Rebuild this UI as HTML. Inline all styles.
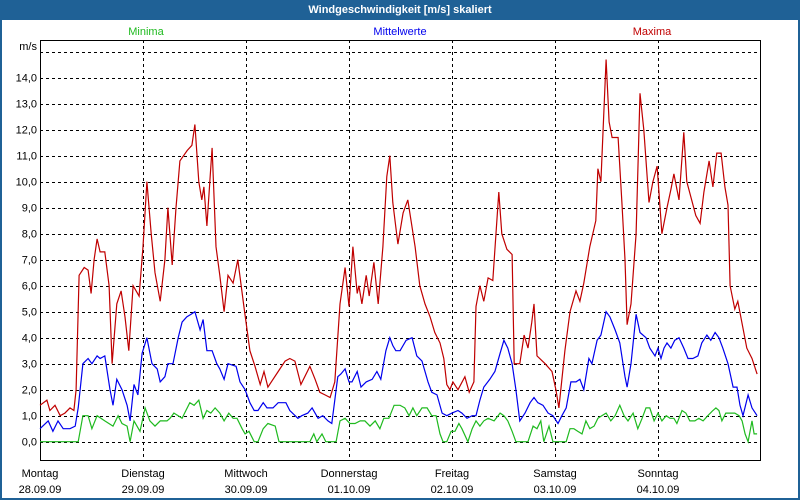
<!DOCTYPE html>
<html><head><meta charset="utf-8"><style>
html,body{margin:0;padding:0;width:800px;height:500px;overflow:hidden;background:#fff}
#frame{position:absolute;left:0;top:0;width:796px;height:498px;border:2px solid #1f6196;border-top:none;}
#title{position:absolute;left:0;top:0;width:800px;height:20px;background:#1f6196;color:#fff;font:bold 11px "Liberation Sans",sans-serif;text-align:center;line-height:20px}
svg{position:absolute;left:0;top:0}
text{font-family:"Liberation Sans",sans-serif;font-size:11px}
</style></head><body>
<div id="frame"></div>
<div id="title">Windgeschwindigkeit [m/s] skaliert</div>
<svg id="chart" width="800" height="500"></svg>
<script>
const dayLabels=["Montag","Dienstag","Mittwoch","Donnerstag","Freitag","Samstag","Sonntag"];
const dateLabels=["28.09.09","29.09.09","30.09.09","01.10.09","02.10.09","03.10.09","04.10.09"];
const yTicks=[0,1,2,3,4,5,6,7,8,9,10,11,12,13,14];
const yTickLabels=["0,0","1,0","2,0","3,0","4,0","5,0","6,0","7,0","8,0","9,0","10,0","11,0","12,0","13,0","14,0"];
const maxHours=[0,1.6,2.3,3.5,4.7,5.8,7.0,7.9,8.4,9.1,10.3,11.2,11.9,12.6,13.3,14.0,15.1,16.1,16.8,17.9,18.9,19.8,20.7,21.7,23.1,24.0,24.9,25.9,26.8,28.0,29.1,29.8,30.8,31.7,32.6,34.3,35.4,36.1,37.0,37.7,38.2,38.9,39.6,40.1,41.0,41.9,42.9,43.8,45.0,46.1,47.5,48.9,50.1,51.3,52.2,53.1,55.5,57.1,58.2,59.4,60.8,62.9,64.1,65.2,66.4,67.6,68.7,69.9,71.1,72.0,72.9,73.9,74.3,75.0,76.0,76.7,77.8,78.8,79.9,80.8,81.5,82.2,83.4,84.6,85.7,87.4,88.5,89.7,90.9,92.0,93.2,94.1,94.8,95.5,96.2,97.4,99.0,100.0,101.1,101.6,102.5,103.4,104.4,105.5,106.9,107.6,108.8,110.0,110.5,111.8,112.8,113.7,114.6,115.1,115.8,117.7,119.3,120.2,120.9,122.3,123.5,124.9,125.8,126.7,128.1,129.5,130.0,130.7,131.2,131.9,132.6,133.3,134.7,135.6,136.3,136.8,137.7,138.9,139.8,140.7,141.9,142.8,143.8,144.9,146.1,147.0,147.7,148.9,150.0,150.7,152.8,153.8,154.7,155.9,156.8,157.7,158.7,159.6,160.3,160.8,161.9,162.6,164.7,165.9,167.1];
const maxValues=[1.4,1.6,1.2,1.4,1.0,1.1,1.3,1.2,2.0,6.4,6.7,6.6,5.7,7.0,7.8,7.3,7.3,6.0,3.0,5.3,5.8,4.8,3.5,6.0,5.6,7.5,10.0,8.0,6.5,5.4,7.0,9.0,6.8,9.0,10.8,11.2,11.4,12.2,10.0,9.3,9.8,8.3,10.1,11.3,7.5,6.4,5.0,6.4,6.1,7.0,5.2,3.5,2.9,2.2,2.7,2.1,2.7,3.1,3.2,3.1,2.2,2.9,2.4,1.9,1.8,1.7,2.3,5.3,6.7,5.2,7.5,5.7,6.0,5.3,6.4,5.6,6.9,5.3,7.5,10.2,11.0,9.2,7.6,8.8,9.3,7.5,6.0,5.3,4.8,4.2,3.8,3.2,2.2,2.0,2.3,2.0,2.5,1.9,2.3,5.2,6.0,5.4,6.3,6.2,9.6,8.0,7.4,7.2,3.0,3.0,4.1,3.6,4.6,5.3,3.3,3.0,2.7,2.0,1.3,3.5,5.0,5.8,5.4,6.1,7.5,8.5,10.5,10.0,12.0,14.7,12.3,11.7,11.7,9.2,7.0,4.5,5.3,8.0,13.4,12.0,9.2,10.0,10.6,8.0,9.0,9.7,10.3,9.3,11.9,10.0,8.7,8.4,9.6,10.8,9.8,11.1,11.1,9.8,9.1,6.0,5.1,5.4,3.6,3.2,2.6,1.8];
const meanHours=[0,1.9,3.0,4.2,5.4,7.0,8.2,8.9,10.0,11.2,12.1,13.3,14.0,15.1,16.3,17.0,17.9,19.1,20.3,21.0,21.9,22.8,23.8,24.9,26.1,27.3,28.0,29.1,29.8,31.0,32.2,33.1,34.2,35.2,36.1,37.3,38.0,38.9,40.1,41.2,41.9,42.9,43.8,45.7,46.6,47.8,48.9,49.9,50.8,52.0,52.9,54.3,55.5,57.3,58.2,60.1,61.0,62.4,63.4,64.8,65.9,67.1,68.0,69.4,70.1,71.1,72.0,72.7,73.9,74.8,76.0,77.4,78.5,79.4,80.6,81.5,82.2,82.9,83.9,85.3,86.7,87.8,89.0,90.4,91.3,92.5,93.7,94.8,96.0,97.4,98.3,99.5,100.7,101.6,102.5,103.4,104.8,106.0,107.2,108.1,109.0,110.0,110.9,111.8,113.0,114.2,115.1,116.0,117.2,118.4,119.5,120.7,121.6,122.6,123.7,124.9,125.8,126.7,127.9,128.6,129.8,130.7,131.9,132.8,134.0,135.1,136.3,136.8,137.7,138.9,139.8,141.2,142.1,143.3,144.0,144.7,145.4,146.1,147.0,147.9,148.9,150.0,151.0,152.1,153.3,154.2,155.4,156.3,157.3,158.2,159.1,160.3,161.5,162.4,163.1,163.8,165.0,165.9,167.1];
const meanValues=[0.5,0.8,0.4,0.8,0.5,0.5,0.6,1.3,3.0,3.2,3.0,3.3,3.2,3.3,2.0,1.4,2.4,2.0,1.4,0.8,2.2,1.8,3.4,4.0,3.0,2.8,2.3,2.5,3.0,3.0,4.0,4.6,4.8,4.9,5.0,4.3,4.7,3.5,3.5,3.0,2.8,2.4,3.0,2.9,2.3,2.0,1.5,1.2,1.2,1.5,1.3,1.3,1.5,1.5,1.2,0.9,1.0,1.1,1.3,0.9,1.0,0.8,0.7,2.5,2.6,2.8,2.3,2.3,2.7,2.1,2.3,2.4,2.7,2.4,3.5,4.0,3.7,3.5,3.5,3.9,4.0,3.3,3.1,2.3,1.9,1.8,1.1,1.0,1.1,1.2,1.1,0.9,1.0,1.0,1.6,2.1,2.4,2.7,3.4,3.9,3.6,3.0,2.0,0.8,1.1,1.5,1.7,1.5,1.4,1.1,1.0,0.7,1.0,1.3,2.3,2.3,2.4,2.0,3.2,3.0,3.9,4.1,5.0,4.8,4.3,3.8,2.5,2.1,3.0,4.9,4.2,4.0,3.6,3.3,3.6,3.2,3.6,3.8,3.6,3.9,4.0,3.6,3.2,3.2,3.3,3.8,4.1,3.9,4.2,4.0,3.6,3.0,2.1,2.1,1.4,1.0,1.8,1.3,1.0];
const minHours=[0,8.9,10.0,11.2,12.1,13.3,15.1,17.0,18.2,19.1,20.3,21.0,21.9,23.3,24.5,25.6,26.8,28.0,29.6,30.3,31.2,32.2,33.1,34.0,34.9,35.9,37.0,38.0,38.9,39.8,40.8,41.9,42.9,44.0,45.0,45.9,47.1,47.8,48.7,49.9,50.8,52.0,53.1,54.8,55.7,62.9,63.8,64.5,65.7,66.6,69.0,69.9,71.1,72.2,73.4,74.6,75.7,76.9,78.1,79.2,80.1,81.3,82.5,83.9,85.0,86.0,86.9,87.8,89.0,90.2,91.3,92.3,93.2,93.9,94.8,95.8,96.7,97.6,98.3,99.7,100.7,101.6,102.5,103.4,104.4,105.8,107.2,108.1,109.0,110.0,110.9,113.7,114.9,115.8,116.7,117.4,118.6,119.5,122.6,123.5,124.4,125.3,126.3,127.2,128.1,129.1,130.0,130.9,131.9,133.0,134.0,135.1,136.1,137.0,138.2,139.3,140.3,141.2,142.1,143.1,144.0,144.9,145.9,146.8,147.7,148.4,149.6,150.5,151.4,152.6,153.5,154.5,155.6,156.8,157.5,158.2,158.9,159.8,161.9,162.9,163.6,164.3,165.0,165.9,166.4,167.1];
const minValues=[0,0,1.0,1.0,0.5,1.0,0.8,0.6,1.0,0.7,0.6,0,0.8,0.4,1.3,0.8,0.6,0.8,0.8,0.9,1.1,1.0,0.9,1.2,1.5,1.4,1.6,0.9,1.2,1.1,1.3,1.1,0.8,1.1,0.9,0.9,0.5,0.3,0.4,0,0,0.5,0.7,0.6,0,0,0.3,0,0.3,0,0,0.8,0.9,0.7,0.7,0.8,0.8,0.6,0.8,0.5,0.9,0.9,1.4,1.4,1.3,1.0,1.3,1.0,1.3,1.3,1.0,1.0,0.3,0,0,0.4,0.4,0.7,0.5,0,0.5,0.8,0.6,0.8,0.9,0.8,1.1,1.0,0.8,0.4,0,0,0.6,0.5,0.8,0,0.6,0,0,0.5,0.5,0.4,0.3,0.8,0.5,0.6,0.9,1.0,1.1,0.8,1.0,1.4,1.0,0.8,1.1,0.5,0.9,1.3,1.3,0.8,1.1,0.8,1.0,0.9,0.9,0.7,1.2,1.1,0.8,0.8,0.9,0.8,1.0,1.2,1.3,1.2,0.8,1.1,1.1,1.0,0.8,0.3,0,0.8,0.3,0.3];

const svg=document.getElementById('chart');
const NS='http://www.w3.org/2000/svg';
const L=40,R=760,T=40,B=460,Y0=441.7,PXU=26,PXD=103;
const xH=h=>L+h/24*PXD;
const yV=v=>Y0-v*PXU;
function mk(tag,attrs,parent){const e=document.createElementNS(NS,tag);for(const k in attrs)e.setAttribute(k,attrs[k]);(parent||svg).appendChild(e);return e;}

const grid=mk('g',{});


for(let v=0;v<=15;v++){
  const ln=mk('line',{x1:L,x2:R,y1:Math.round(yV(v))+0.5,y2:Math.round(yV(v))+0.5,stroke:'#000','stroke-dasharray':'3,3','stroke-width':1},grid);
  
  
}
for(let d=1;d<7;d++){
  const x=Math.round(xH(d*24))+0.5;
  const ln=mk('line',{x1:x,x2:x,y1:T,y2:B,stroke:'#000','stroke-dasharray':'3,3','stroke-width':1},grid);
  
  
}
const ax=mk('path',{d:`M${R+0.5},${B} V${B+0.5} H${L+0.5} V${T+0.5} H${R+0.5} V${B}`,fill:'none',stroke:'#000','stroke-width':1});



yTicks.forEach((v,i)=>{
  const t=mk('text',{x:37,y:yV(v)+4,'text-anchor':'end',fill:'#000'});
  t.textContent=yTickLabels[i];
  
  
});
const unit=mk('text',{x:37,y:50,'text-anchor':'end',fill:'#000'});
unit.textContent='m/s';



dayLabels.forEach((d,i)=>{
  const x=xH(i*24);
  const t1=mk('text',{x:x,y:477,'text-anchor':'middle',fill:'#000'});
  t1.textContent=d;
  
  
  const t2=mk('text',{x:x,y:493,'text-anchor':'middle',fill:'#000'});
  t2.textContent=dateLabels[i];
  
  
});

function series(hours,vals,color,name){
  const d=hours.map((h,i)=>(i?'L':'M')+xH(h).toFixed(1)+','+yV(vals[i]).toFixed(1)).join(' ');
  const p=mk('path',{d:d,fill:'none',stroke:color,'stroke-width':1.2,'stroke-linejoin':'miter'});
  
  
}
series(minHours,minValues,'#1fba1f','minima-line');
series(meanHours,meanValues,'#0000ee','mittelwerte-line');
series(maxHours,maxValues,'#c00000','maxima-line');

const legend=[['Minima',146,'#1fba1f'],['Mittelwerte',400,'#0000ee'],['Maxima',652,'#c00000']];
legend.forEach(l=>{
  const t=mk('text',{x:l[1],y:35,'text-anchor':'middle',fill:l[2]});
  t.textContent=l[0];
  
  
});
</script>
</body></html>
